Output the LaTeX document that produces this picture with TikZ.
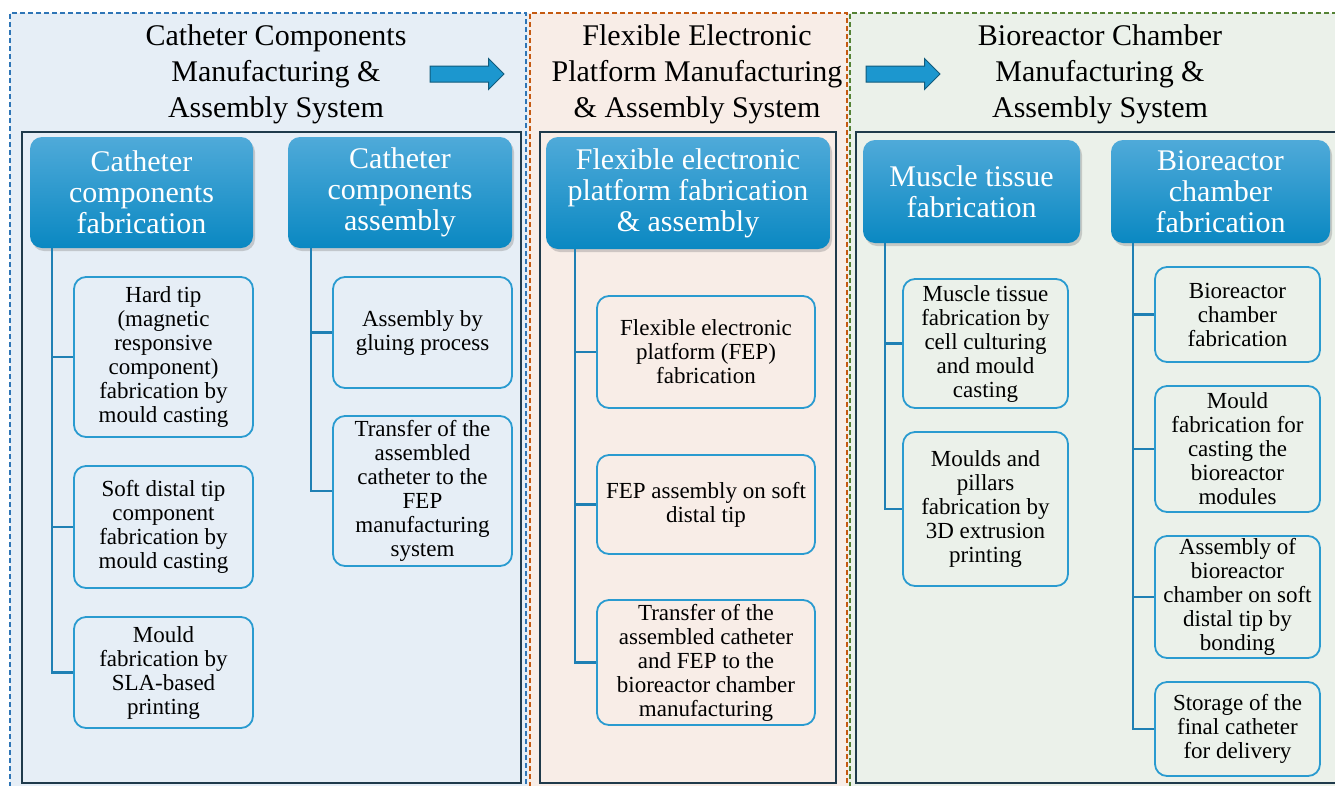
\documentclass[tikz,border=0pt]{standalone}
\usepackage{fontspec}
\setmainfont{Liberation Serif}
\usetikzlibrary{shapes.arrows,shadows}

\definecolor{fillA}{HTML}{E6EEF6}
\definecolor{fillB}{HTML}{F8EDE7}
\definecolor{fillC}{HTML}{EBF1EA}
\definecolor{dashA}{HTML}{2E75B6}
\definecolor{dashB}{HTML}{C55A11}
\definecolor{dashC}{HTML}{548235}
\definecolor{framecol}{HTML}{1F3A4B}
\definecolor{hdtop}{HTML}{4FAAD9}
\definecolor{hdbot}{HTML}{0A88C2}
\definecolor{subblue}{HTML}{2A9BD0}
\definecolor{trunkcol}{HTML}{1F80B4}
\definecolor{arrowcol}{HTML}{1C97CF}

\tikzset{
  panel/.style={line width=1.4pt,dash pattern=on 5pt off 3pt},
  frame/.style={draw=framecol,line width=1.8pt},
  title/.style={align=center,font=\fontsize{30}{36}\selectfont},
  header/.style={rectangle,rounded corners=12pt,top color=hdtop,bottom color=hdbot,
    text=white,align=center,inner sep=0pt,font=\fontsize{30}{31}\selectfont,
    drop shadow={opacity=0.35,shadow xshift=2pt,shadow yshift=-3pt}},
  subbox/.style={rectangle,rounded corners=12pt,draw=subblue,line width=1.8pt,
    align=center,inner sep=0pt,minimum width=#1,font=\fontsize{23}{24}\selectfont},
  trunk/.style={draw=trunkcol,line width=2.6pt},
  flow/.style={single arrow,fill=arrowcol,draw=arrowcol!60!black,line width=1pt,
    minimum height=74pt,inner xsep=0pt,inner ysep=7.5pt,single arrow head extend=7.5pt}
}

\begin{document}
\begin{tikzpicture}[x=1pt,y=-1pt]
  \useasboundingbox (0,0) rectangle (1335,785);

  % Panels
  \fill[fillA] (10,13) rectangle (528,795);
  \fill[fillB] (528,13) rectangle (848,795);
  \fill[fillC] (848,13) rectangle (1345,795);
  \draw[panel,draw=dashA] (10,795) -- (10,13) -- (526,13) -- (526,795);
  \draw[panel,draw=dashB] (530,795) -- (530,13) -- (847,13) -- (847,795);
  \draw[panel,draw=dashC] (850,795) -- (850,13) -- (1345,13);

  \draw[frame] (22,132) rectangle (521,783);
  \draw[frame] (540,132) rectangle (836,783);
  \draw[frame] (856,132) rectangle (1340,783);

  % Titles and arrows
  \node[title] (sysA) at (276,74) {Catheter Components\\Manufacturing \&\\Assembly System};
  \node[title] (sysB) at (697,74) {Flexible Electronic\\Platform Manufacturing\\\& Assembly System};
  \node[title] (sysC) at (1100,74) {Bioreactor Chamber\\Manufacturing \&\\Assembly System};
  \node[flow] (arrAB) at (463,74) {};
  \node[flow] (arrBC) at (899,74) {};

  % Headers
  \node[header,minimum width=223pt,minimum height=111pt] (hA) at (141.5,192.5) {Catheter\\components\\fabrication};
  \node[header,minimum width=224pt,minimum height=111pt] (hB) at (400,192.5) {Catheter\\components\\assembly};
  \node[header,minimum width=284pt,minimum height=112pt] (hC) at (688,193) {Flexible electronic\\platform fabrication\\\& assembly};
  \node[header,minimum width=217pt,minimum height=103pt] (hD) at (971.5,191.5) {Muscle tissue\\fabrication};
  \node[header,minimum width=219pt,minimum height=103pt] (hE) at (1220.5,191.5) {Bioreactor\\chamber\\fabrication};

  % Steps
  \node[subbox=179pt,minimum height=160pt] (sA1) at (163.5,357) {Hard tip\\(magnetic\\responsive\\component)\\fabrication by\\mould casting};
  \node[subbox=179pt,minimum height=122pt] (sA2) at (163.5,527) {Soft distal tip\\component\\fabrication by\\mould casting};
  \node[subbox=179pt,minimum height=111pt] (sA3) at (163.5,672.5) {Mould\\fabrication by\\SLA-based\\printing};

  \node[subbox=179pt,minimum height=111pt] (sB1) at (422.5,332.5) {Assembly by\\gluing process};
  \node[subbox=179pt,minimum height=150pt] (sB2) at (422.5,491) {Transfer of the\\assembled\\catheter to the\\FEP\\manufacturing\\system};

  \node[subbox=218pt,minimum height=112pt] (sC1) at (706,352) {Flexible electronic\\platform (FEP)\\fabrication};
  \node[subbox=218pt,minimum height=99pt] (sC2) at (706,504.5) {FEP assembly on soft\\distal tip};
  \node[subbox=218pt,minimum height=125pt] (sC3) at (706,662.5) {Transfer of the\\assembled catheter\\and FEP to the\\bioreactor chamber\\manufacturing};

  \node[subbox=165pt,minimum height=129pt] (sD1) at (985.5,343.5) {Muscle tissue\\fabrication by\\cell culturing\\and mould\\casting};
  \node[subbox=165pt,minimum height=154pt] (sD2) at (985.5,509) {Moulds and\\pillars\\fabrication by\\3D extrusion\\printing};

  \node[subbox=165pt,minimum height=95pt] (sE1) at (1237.5,314.5) {Bioreactor\\chamber\\fabrication};
  \node[subbox=165pt,minimum height=126pt] (sE2) at (1237.5,449) {Mould\\fabrication for\\casting the\\bioreactor\\modules};
  \node[subbox=165pt,minimum height=122pt] (sE3) at (1237.5,597) {Assembly of\\bioreactor\\chamber on soft\\distal tip by\\bonding};
  \node[subbox=165pt,minimum height=94pt] (sE4) at (1237.5,729) {Storage of the\\final catheter\\for delivery};

  % Trunks
  \coordinate (tA) at ([xshift=22pt]hA.south west);
  \coordinate (tB) at ([xshift=23pt]hB.south west);
  \coordinate (tC) at ([xshift=29pt]hC.south west);
  \coordinate (tD) at ([xshift=22pt]hD.south west);
  \coordinate (tE) at ([xshift=22pt]hE.south west);
  \foreach \s in {sA1,sA2,sA3} \draw[trunk] (tA) |- (\s.west);
  \foreach \s in {sB1,sB2} \draw[trunk] (tB) |- (\s.west);
  \foreach \s in {sC1,sC2,sC3} \draw[trunk] (tC) |- (\s.west);
  \foreach \s in {sD1,sD2} \draw[trunk] (tD) |- (\s.west);
  \foreach \s in {sE1,sE2,sE3,sE4} \draw[trunk] (tE) |- (\s.west);

\end{tikzpicture}
\end{document}
